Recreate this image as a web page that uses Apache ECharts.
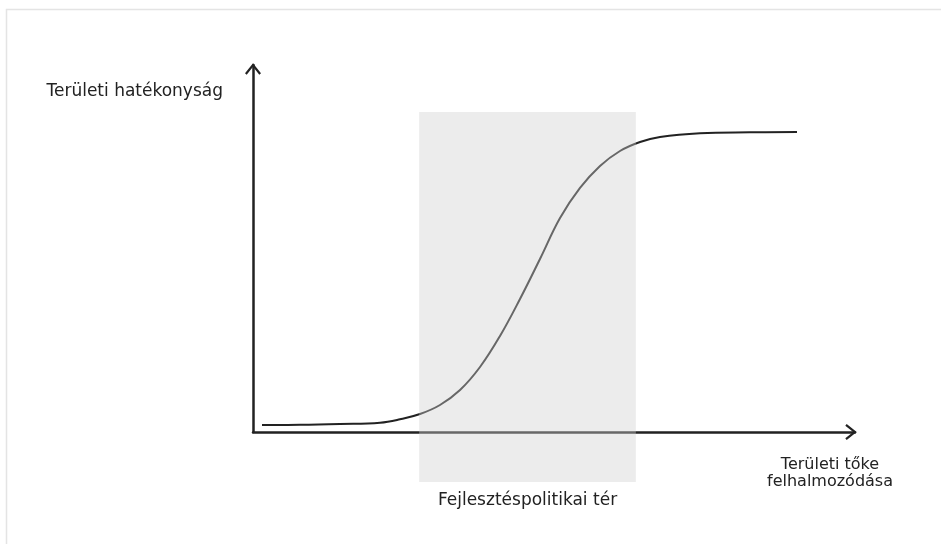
<!DOCTYPE html>
<html>
<head>
<meta charset="utf-8">
<script src="https://cdn.jsdelivr.net/npm/echarts@6/dist/echarts.min.js"></script>
<style>
  html, body { margin: 0; padding: 0; background: #fff; }
  #chart { width: 941px; height: 544px; }
</style>
</head>
<body>
<div id="chart"></div>
<script>
// axis units 0..100 on both axes
var curveX = [1.5, 7.81, 14.45, 21.1, 24.42, 27.74, 31.06, 34.39, 37.71, 41.03, 44.35, 47.67, 51.0, 54.32, 57.64, 60.96, 64.29, 67.61, 74.25, 82.56, 90.37];
var curveY = [1.91, 1.96, 2.18, 2.53, 3.46, 4.9, 7.36, 11.44, 17.71, 26.16, 36.24, 47.14, 58.31, 66.49, 72.48, 76.57, 79.02, 80.38, 81.39, 81.66, 81.74];
var bandRange = [27.6, 63.6];
var yName = 'Területi hatékonyság';
var xName = 'Területi tőke\nfelhalmozódása';
var bandName = 'Fejlesztéspolitikai tér';

var font = 'DejaVu Sans';
var ink = '#222';
// open chevron, pointing up
var chevron = 'path://M0,10 L8,0 L16,10 L14.3,11.4 L8,3.5 L1.7,11.4 Z';

var curveData = curveX.map(function (x, i) { return [x, curveY[i]]; });

var myChart = echarts.init(document.getElementById('chart'));
myChart.setOption({
    animation: false,
    graphic: [{
        type: 'rect',
        shape: { x: 6.5, y: 9.5, width: 1000, height: 1000 },
        style: { fill: 'none', stroke: '#e4e4e4', lineWidth: 1.5 },
        z: -1
    }],
    grid: [
        { left: 253, right: 86, top: 65, bottom: 112 },
        { left: 253, right: 86, top: 112, bottom: 62 }
    ],
    xAxis: [{
        type: 'value', gridIndex: 0, min: 0, max: 100,
        name: xName, nameLocation: 'end', nameGap: -25,
        nameTextStyle: {
            fontFamily: font, fontSize: 16, color: ink,
            align: 'center', verticalAlign: 'top', lineHeight: 17,
            padding: [24, 0, 0, 0]
        },
        axisLine: {
            lineStyle: { color: ink, width: 2.5 },
            symbol: ['none', chevron], symbolSize: [16, 12], symbolOffset: [0, -4]
        },
        axisTick: { show: false }, axisLabel: { show: false }, splitLine: { show: false }
    }, {
        type: 'value', gridIndex: 1, min: 0, max: 100, show: false
    }],
    yAxis: [{
        type: 'value', gridIndex: 0, min: 0, max: 100,
        name: yName, nameLocation: 'end', nameGap: -27,
        nameTextStyle: {
            fontFamily: font, fontSize: 17, color: ink,
            align: 'right', verticalAlign: 'middle',
            padding: [0, 30, 0, 0]
        },
        axisLine: {
            lineStyle: { color: ink, width: 2.5 },
            symbol: ['none', chevron], symbolSize: [16, 12], symbolOffset: [0, -4]
        },
        axisTick: { show: false }, axisLabel: { show: false }, splitLine: { show: false }
    }, {
        type: 'value', gridIndex: 1, min: 0, max: 1, show: false
    }],
    series: [{
        type: 'line',
        xAxisIndex: 0, yAxisIndex: 0,
        data: curveData,
        smooth: 0.4,
        showSymbol: false,
        lineStyle: { color: ink, width: 2 },
        z: 2
    }, {
        type: 'line',
        xAxisIndex: 1, yAxisIndex: 1,
        data: [],
        z: 10,
        markArea: {
            silent: true,
            z: 10,
            itemStyle: { color: 'rgba(207,207,207,0.4)' },
            label: {
                show: true, position: 'bottom', distance: 10,
                fontFamily: font, fontSize: 17, color: ink
            },
            data: [[{ name: bandName, xAxis: bandRange[0] }, { xAxis: bandRange[1] }]]
        }
    }]
});
</script>
</body>
</html>
